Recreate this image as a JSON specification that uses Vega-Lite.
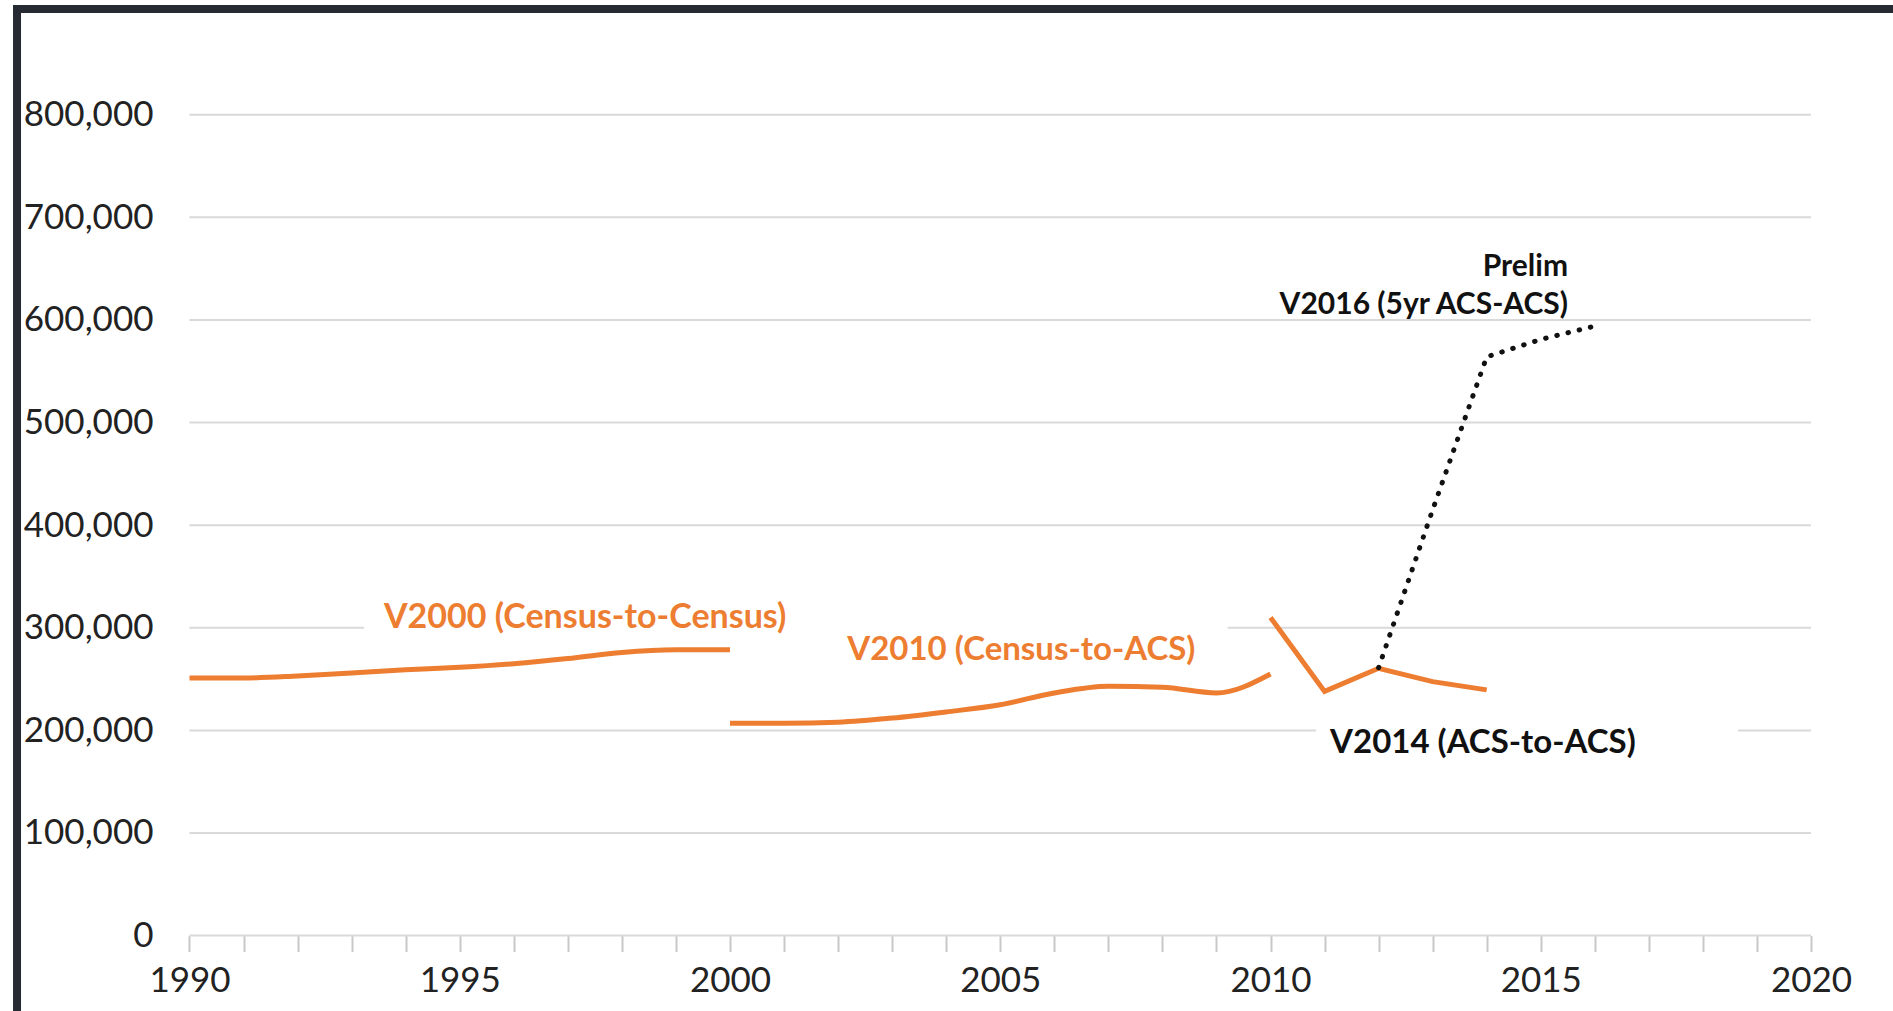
{
  "$schema": "https://vega.github.io/schema/vega-lite/v6.json",
  "width": 1893,
  "height": 1011,
  "autosize": {"type": "none"},
  "padding": 0,
  "background": "white",
  "config": {"view": {"stroke": null}},
  "datasets": {
    "series": [
      {"series": "V2000", "year": 1990, "value": 251000},
      {"series": "V2000", "year": 1991, "value": 251000},
      {"series": "V2000", "year": 1992, "value": 253000},
      {"series": "V2000", "year": 1993, "value": 256000},
      {"series": "V2000", "year": 1994, "value": 259000},
      {"series": "V2000", "year": 1995, "value": 261500},
      {"series": "V2000", "year": 1996, "value": 265000},
      {"series": "V2000", "year": 1997, "value": 270000},
      {"series": "V2000", "year": 1998, "value": 276000},
      {"series": "V2000", "year": 1999, "value": 278500},
      {"series": "V2000", "year": 2000, "value": 278500},
      {"series": "V2010", "year": 2000, "value": 207000},
      {"series": "V2010", "year": 2001, "value": 207000},
      {"series": "V2010", "year": 2002, "value": 208000},
      {"series": "V2010", "year": 2003, "value": 212000},
      {"series": "V2010", "year": 2004, "value": 218000},
      {"series": "V2010", "year": 2005, "value": 225000},
      {"series": "V2010", "year": 2006, "value": 236500},
      {"series": "V2010", "year": 2007, "value": 243000},
      {"series": "V2010", "year": 2008, "value": 242000},
      {"series": "V2010", "year": 2009, "value": 236500},
      {"series": "V2010", "year": 2010, "value": 255000},
      {"series": "V2014", "year": 2010, "value": 310000},
      {"series": "V2014", "year": 2011, "value": 238000},
      {"series": "V2014", "year": 2012, "value": 260500},
      {"series": "V2014", "year": 2013, "value": 247500},
      {"series": "V2014", "year": 2014, "value": 239500},
      {"series": "V2016", "year": 2012, "value": 261000},
      {"series": "V2016", "year": 2013, "value": 415000},
      {"series": "V2016", "year": 2014, "value": 564000},
      {"series": "V2016", "year": 2015, "value": 581000},
      {"series": "V2016", "year": 2016, "value": 594000}
    ],
    "grid": [
      {"v": 0}, {"v": 100000}, {"v": 200000}, {"v": 300000}, {"v": 400000},
      {"v": 500000}, {"v": 600000}, {"v": 700000}, {"v": 800000}
    ],
    "boxes": [
      {"label": "V2000", "x0": 1993.23, "x1": 2001.48, "y0": 278300, "y1": 331000},
      {"label": "V2010", "x0": 2001.48, "x1": 2009.21, "y0": 249100, "y1": 312400},
      {"label": "V2014", "x0": 2010.84, "x1": 2018.65, "y0": 146800, "y1": 215000}
    ],
    "labels": [
      {"text": "V2000 (Census-to-Census)", "year": 1997.32, "value": 309500, "kind": "orange", "size": 34},
      {"text": "V2010 (Census-to-ACS)", "year": 2005.39, "value": 278800, "kind": "orange", "size": 33},
      {"text": "V2014 (ACS-to-ACS)", "year": 2013.93, "value": 187500, "kind": "black", "size": 33}
    ],
    "labels2": [
      {"text": "Prelim", "year": 2015.505, "value": 651600},
      {"text": "V2016 (5yr ACS-ACS)", "year": 2015.505, "value": 614500}
    ]
  },
  "encoding": {
    "x": {"type": "quantitative", "scale": {"domain": [1986.494, 2021.517], "nice": false, "zero": false}},
    "y": {"type": "quantitative", "scale": {"domain": [-73480, 911800], "nice": false, "zero": false}}
  },
  "layer": [
    {
      "data": {"name": "grid"},
      "mark": {"type": "rule", "color": "#d9d9d9", "strokeWidth": 2},
      "encoding": {
        "x": {"datum": 1990, "type": "quantitative",
          "axis": {
            "orient": "bottom", "offset": -75.4, "title": null, "domain": false, "grid": false,
            "values": [1990,1991,1992,1993,1994,1995,1996,1997,1998,1999,2000,2001,2002,2003,2004,2005,2006,2007,2008,2009,2010,2011,2012,2013,2014,2015,2016,2017,2018,2019,2020],
            "format": "d",
            "labelExpr": "datum.value % 5 === 0 ? datum.label : ''",
            "ticks": true, "tickSize": 16, "tickColor": "#c8c8c8", "tickWidth": 2,
            "labelFont": "Lato", "labelFontSize": 35, "labelColor": "#222222",
            "labelPadding": 12, "labelFlush": false, "labelOverlap": false, "labelBound": false
          }
        },
        "x2": {"datum": 2020},
        "y": {"field": "v", "type": "quantitative",
          "axis": {
            "orient": "left", "offset": -158, "title": null, "domain": false, "grid": false,
            "ticks": false, "tickSize": 0,
            "values": [0,100000,200000,300000,400000,500000,600000,700000,800000],
            "format": ",d",
            "labelFont": "Lato", "labelFontSize": 35, "labelColor": "#222222",
            "labelPadding": 5, "labelOverlap": false, "labelBound": false
          }
        }
      }
    },
    {
      "data": {"name": "boxes"},
      "mark": {"type": "rect", "color": "white"},
      "encoding": {
        "x": {"field": "x0", "type": "quantitative"},
        "x2": {"field": "x1"},
        "y": {"field": "y0", "type": "quantitative"},
        "y2": {"field": "y1"}
      }
    },
    {
      "data": {"values": [{}]},
      "mark": {"type": "rule", "color": "#262b33", "strokeWidth": 8, "strokeCap": "butt"},
      "encoding": {
        "x": {"datum": 1986.809, "type": "quantitative"},
        "y": {"datum": 906900, "type": "quantitative"},
        "y2": {"datum": -150000}
      }
    },
    {
      "data": {"values": [{}]},
      "mark": {"type": "rule", "color": "#262b33", "strokeWidth": 8, "strokeCap": "butt"},
      "encoding": {
        "x": {"datum": 1986.735, "type": "quantitative"},
        "x2": {"datum": 2023},
        "y": {"datum": 903030, "type": "quantitative"}
      }
    },
    {
      "data": {"name": "series"},
      "transform": [{"filter": "datum.series === 'V2000' || datum.series === 'V2010'"}],
      "mark": {"type": "line", "color": "#ED7D31", "strokeWidth": 5, "interpolate": "monotone", "strokeCap": "butt"},
      "encoding": {
        "x": {"field": "year", "type": "quantitative"},
        "y": {"field": "value", "type": "quantitative"},
        "detail": {"field": "series"}
      }
    },
    {
      "data": {"name": "series"},
      "transform": [{"filter": "datum.series === 'V2014'"}],
      "mark": {"type": "line", "color": "#ED7D31", "strokeWidth": 5, "strokeCap": "butt"},
      "encoding": {
        "x": {"field": "year", "type": "quantitative"},
        "y": {"field": "value", "type": "quantitative"}
      }
    },
    {
      "data": {"name": "series"},
      "transform": [{"filter": "datum.series === 'V2016'"}],
      "mark": {"type": "line", "color": "#111111", "strokeWidth": 5, "strokeCap": "round", "strokeDash": [0.5, 11]},
      "encoding": {
        "x": {"field": "year", "type": "quantitative"},
        "y": {"field": "value", "type": "quantitative"}
      }
    },
    {
      "data": {"name": "labels"},
      "mark": {"type": "text", "font": "Lato", "fontWeight": "bold", "baseline": "middle", "align": "center"},
      "encoding": {
        "x": {"field": "year", "type": "quantitative"},
        "y": {"field": "value", "type": "quantitative"},
        "text": {"field": "text"},
        "size": {"field": "size", "type": "quantitative", "scale": null},
        "color": {"field": "kind", "type": "nominal", "scale": {"domain": ["orange", "black"], "range": ["#ED7D31", "#111111"]}, "legend": null}
      }
    },
    {
      "data": {"name": "labels2"},
      "mark": {"type": "text", "font": "Lato", "fontWeight": "bold", "fontSize": 30, "baseline": "middle", "align": "right", "color": "#111111"},
      "encoding": {
        "x": {"field": "year", "type": "quantitative"},
        "y": {"field": "value", "type": "quantitative"},
        "text": {"field": "text"}
      }
    }
  ]
}
